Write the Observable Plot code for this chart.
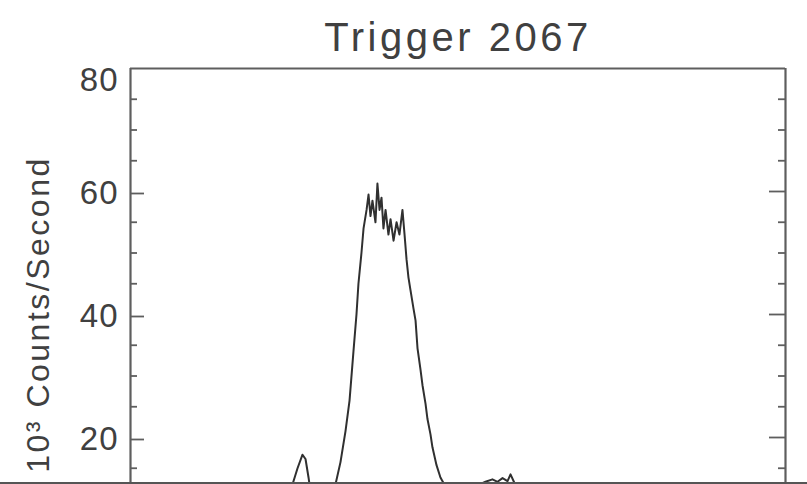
<!DOCTYPE html>
<html>
<head>
<meta charset="utf-8">
<script src="https://cdn.jsdelivr.net/npm/d3@7"></script>
<script src="https://cdn.jsdelivr.net/npm/@observablehq/plot@0.6"></script>
<style>
  html, body { margin: 0; padding: 0; background: #fff; overflow: hidden; }
  #wrap { position: relative; width: 807px; height: 484px; overflow: hidden; }
  #edge { position: absolute; left: 0; top: 482px; width: 807px; height: 2px; background: #555; }
  [aria-label="y-axis tick label"] text { letter-spacing: 1px; }
</style>
</head>
<body>
<div id="wrap"><div id="chart"></div><div id="edge"></div></div>
<script>
// Light curve of BATSE trigger 2067: time (s) and rate (10^3 counts/s)
const times = [-10, -5, 0, 1.83, 2.37, 2.75, 3.13, 3.36, 3.59, 3.82, 4.50, 5.27, 5.65,
  6.03, 6.41, 6.72, 7.02, 7.25, 7.40, 7.63, 7.79, 8.02, 8.17, 8.32, 8.47, 8.70, 8.85,
  9.01, 9.16, 9.31, 9.47, 9.69, 9.85, 10.08, 10.31, 10.53, 10.76, 10.92, 11.07, 11.22,
  11.37, 11.60, 11.76, 11.91, 12.14, 12.29, 12.52, 12.67, 12.90, 13.05, 13.36, 13.66,
  14.05, 14.81, 15.95, 16.56, 17.10, 17.63, 18.02, 18.40, 18.78, 19.01, 19.31, 19.62,
  20.53, 25.88, 33.51, 40];
const counts = [8, 7.5, 8, 9, 12.4, 15, 17.2, 16.5, 13.5, 10, 8.5, 10, 12.4,
  16, 21, 26, 34, 40, 45, 50, 54, 57, 59.5, 56, 58.5, 55, 61.3,
  57, 59, 54, 57, 53, 55.5, 52, 55, 53, 57, 53, 49, 46,
  44, 41, 39, 34.5, 31, 28.5, 25.5, 23, 20.5, 18.4, 15.5, 13.5,
  12, 10, 10.5, 12.3, 12.8, 13.2, 12.8, 13.4, 12.9, 14, 12.6, 11.5,
  9.5, 8.5, 8, 8];

const timeRange = [-10, 40];
const rateRange = [0, 80];
const majorTicks = [20, 40, 60];
const topTick = [80];
const minorTicks = [5, 10, 15, 25, 30, 35, 45, 50, 55, 65, 70, 75];
const title = "Trigger 2067";
const yLabel = "10³ Counts/Second";

const data = times.map((t, i) => ({t, rate: counts[i]}));
const ink = "#404040";
const frameColor = "#5e5e5e";
const font = "'Liberation Sans', Arial, sans-serif";

const chart = Plot.plot({
  width: 807,
  height: 620,
  marginLeft: 130,
  marginRight: 22,
  marginTop: 68,
  marginBottom: 60,
  x: {domain: timeRange, axis: null},
  y: {domain: rateRange, axis: null},
  style: {fontFamily: font, color: ink, background: "white", overflow: "visible"},
  marks: [
    Plot.line(data, {x: "t", y: "rate", stroke: "#303030", strokeWidth: 2, clip: true}),
    // frame
    Plot.ruleY([rateRange[1]], {stroke: frameColor, strokeWidth: 2.2}),
    Plot.ruleY([rateRange[0]], {stroke: frameColor, strokeWidth: 2.2}),
    Plot.ruleX(timeRange, {stroke: frameColor, strokeWidth: 2.2}),
    // left axis: inward ticks and labels
    Plot.axisY({anchor: "left", ticks: majorTicks, tickSize: -14, tickPadding: 26,
      stroke: frameColor, strokeWidth: 1.8, fontSize: 33, dy: 2, label: null,
      tickFormat: d => String(d)}),
    Plot.axisY({anchor: "left", ticks: topTick, tickSize: 0, tickPadding: 12,
      fontSize: 33, dy: 12, label: null, tickFormat: d => String(d)}),
    Plot.axisY({anchor: "left", ticks: minorTicks, tickSize: -7, fill: "none",
      stroke: frameColor, strokeWidth: 1.8, label: null}),
    // right axis: inward ticks only
    Plot.axisY({anchor: "right", ticks: majorTicks, tickSize: -17, fill: "none",
      stroke: frameColor, strokeWidth: 1.8, label: null}),
    Plot.axisY({anchor: "right", ticks: minorTicks, tickSize: -8, fill: "none",
      stroke: frameColor, strokeWidth: 1.8, label: null}),
    // title and axis label
    Plot.text([title], {frameAnchor: "top", lineAnchor: "bottom", dy: -18,
      fontSize: 40, fill: ink}),
    Plot.text([yLabel], {frameAnchor: "left", textAnchor: "middle", rotate: -90, dx: -92,
      fontSize: 32, fill: ink})
  ]
});

// widen the tracking of the title and the rotated axis label
d3.select(chart).selectAll("text").each(function() {
  const s = this.textContent;
  if (s === title) this.style.letterSpacing = "3.5px";
  else if (s === yLabel) this.style.letterSpacing = "2.5px";
});

document.getElementById("chart").appendChild(chart);
</script>
</body>
</html>
